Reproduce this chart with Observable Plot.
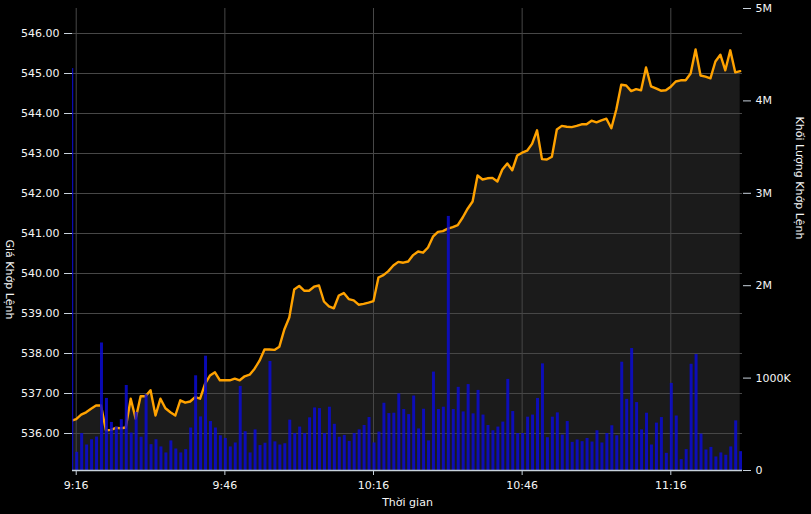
<!DOCTYPE html>
<html>
<head>
<meta charset="utf-8">
<script src="https://cdn.jsdelivr.net/npm/d3@7"></script>
<script src="https://cdn.jsdelivr.net/npm/@observablehq/plot@0.6"></script>
<style>
  html, body { margin: 0; padding: 0; background: #000; overflow: hidden; }
  #wrap { position: relative; width: 811px; height: 514px; }
  #wrap > svg { position: absolute; left: 0; top: 0; }
</style>
</head>
<body>
<div id="wrap"></div>
<script>
// Minute-by-minute session, first minute 9:15
const startHour = 9, startMinute = 15;

// Matched price per minute (9:15 .. 11:30)
const prices = [
  536.32, 536.36, 536.47, 536.53, 536.62, 536.70, 536.70, 536.08, 536.09, 536.14,
  536.13, 536.15, 536.87, 536.37, 536.93, 536.93, 537.08, 536.45, 536.87, 536.63,
  536.53, 536.45, 536.83, 536.77, 536.80, 536.91, 536.87, 537.24, 537.45, 537.53,
  537.33, 537.33, 537.33, 537.37, 537.33, 537.43, 537.47, 537.62, 537.82, 538.10,
  538.10, 538.09, 538.17, 538.60, 538.90, 539.60, 539.69, 539.57, 539.57, 539.67,
  539.70, 539.30, 539.18, 539.13, 539.45, 539.51, 539.36, 539.33, 539.22, 539.24,
  539.27, 539.31, 539.90, 539.96, 540.06, 540.20, 540.29, 540.27, 540.30, 540.46,
  540.55, 540.52, 540.65, 540.92, 541.04, 541.06, 541.12, 541.16, 541.21, 541.40,
  541.62, 541.80, 542.45, 542.35, 542.38, 542.39, 542.30, 542.60, 542.75, 542.58,
  542.95, 543.02, 543.07, 543.24, 543.58, 542.86, 542.85, 542.92, 543.60, 543.69,
  543.67, 543.66, 543.69, 543.73, 543.73, 543.82, 543.78, 543.83, 543.87, 543.63,
  544.10, 544.72, 544.70, 544.56, 544.61, 544.58, 545.15, 544.68, 544.63, 544.57,
  544.58, 544.67, 544.80, 544.83, 544.83, 545.00, 545.60, 544.95, 544.92, 544.88,
  545.30, 545.47, 545.08, 545.58, 545.03, 545.06
];

// Matched volume per minute, in thousands of shares
const volumesK = [
  4350, 197, 400, 276, 333, 362, 1380, 780, 520, 470,
  550, 920, 405, 630, 360, 820, 280, 333, 255, 190,
  320, 233, 190, 226, 460, 1025, 580, 1237, 530, 460,
  376, 347, 255, 298, 910, 420, 190, 440, 270, 295,
  1180, 310, 276, 290, 545, 400, 470, 400, 570, 677,
  670, 400, 685, 500, 360, 380, 315, 400, 440, 487,
  573, 298, 416, 728, 616, 620, 830, 660, 605, 806,
  450, 663, 320, 1065, 660, 685, 2750, 660, 900, 634,
  930, 613, 867, 600, 487, 430, 470, 524, 986, 638,
  400, 400, 577, 600, 780, 1154, 355, 577, 624, 384,
  530, 305, 330, 312, 347, 308, 430, 298, 400, 484,
  376, 1172, 770, 1320, 735, 440, 620, 276, 513, 573,
  186, 943, 590, 118, 226, 1150, 1255, 394, 222, 250,
  147, 190, 165, 255, 537, 204
];

// Axis ticks
const timeTickLabels = ["9:16", "9:46", "10:16", "10:46", "11:16"];
const priceTicks = [536, 537, 538, 539, 540, 541, 542, 543, 544, 545, 546];
const volTicksK = [0, 1000, 2000, 3000, 4000, 5000];
const volTickLabels = ["0", "1000K", "2M", "3M", "4M", "5M"];

// Build table (t = minutes after 9:00)
const rows = prices.map((p, i) => ({
  t: startHour * 60 + startMinute + i - 9 * 60,
  price: p,
  vol: volumesK[i]
}));
const toMin = s => { const [h, m] = s.split(":").map(Number); return (h - 9) * 60 + m; };
const timeTicks = timeTickLabels.map(toMin);
const timeLabelMap = new Map(timeTicks.map((t, i) => [t, timeTickLabels[i]]));
const volLabelMap = new Map(volTicksK.map((v, i) => [v, volTickLabels[i]]));

const W = 811, H = 514;
const margins = { marginTop: 8, marginBottom: 44, marginLeft: 72, marginRight: 69 };
const xDomain = [15.25, 150.47];
const yPriceDomain = [535.075, 546.625];
const font = { fontFamily: "DejaVu Sans, Verdana, sans-serif", fontSize: "11px", color: "#f5f5f5", overflow: "visible" };
const gridColor = "#474747";
const tickColor = "#c8d2dc";

const pricePlot = Plot.plot({
  width: W, height: H, ...margins,
  style: { ...font, background: "#000" },
  x: { domain: xDomain, axis: null },
  y: { domain: yPriceDomain, axis: null },
  marks: [
    Plot.areaY(rows, { x: "t", y1: yPriceDomain[0], y2: "price", fill: "#1b1b1b", clip: true }),
    Plot.gridY(priceTicks, { stroke: gridColor, strokeOpacity: 1 }),
    Plot.gridX(timeTicks, { stroke: gridColor, strokeOpacity: 1 }),
    Plot.lineY(rows, { x: "t", y: "price", stroke: "#ffa200", strokeWidth: 2.4, clip: true }),
    Plot.axisY(priceTicks, {
      anchor: "left", tickSize: 8, tickPadding: 5, stroke: tickColor,
      tickFormat: d => d.toFixed(2), label: null, fill: "#f5f5f5"
    }),
    Plot.text(["Giá Khớp Lệnh"], { frameAnchor: "left", rotate: 90, dx: -63, fill: "#f5f5f5" })
  ]
});

const volPlot = Plot.plot({
  width: W, height: H, ...margins,
  style: { ...font, background: "transparent" },
  x: { domain: xDomain, axis: null },
  y: { domain: [0, 5000], axis: null },
  marks: [
    Plot.rectY(rows, {
      x1: d => d.t - 0.1, x2: d => d.t + 0.5, y1: 0, y2: "vol",
      fill: "#0a0ad2", fillOpacity: 0.85, clip: true
    }),
    Plot.ruleY([0], { stroke: tickColor, strokeWidth: 1.5 }),
    Plot.axisY(volTicksK, {
      anchor: "right", tickSize: 8, tickPadding: 5, stroke: tickColor,
      tickFormat: d => volLabelMap.get(d), label: null, fill: "#f5f5f5", textAnchor: "start"
    }),
    Plot.axisX(timeTicks, {
      anchor: "bottom", tickSize: 5, tickPadding: 6, stroke: tickColor,
      tickFormat: d => timeLabelMap.get(d), label: null, fill: "#f5f5f5"
    }),
    Plot.text(["Khối Lượng Khớp Lệnh"], { frameAnchor: "right", rotate: 90, dx: 57, fill: "#f5f5f5" }),
    Plot.text(["Thời gian"], { frameAnchor: "bottom", dy: 35, fill: "#f5f5f5" })
  ]
});

const wrap = document.getElementById("wrap");
wrap.appendChild(pricePlot);
wrap.appendChild(volPlot);
</script>
</body>
</html>
